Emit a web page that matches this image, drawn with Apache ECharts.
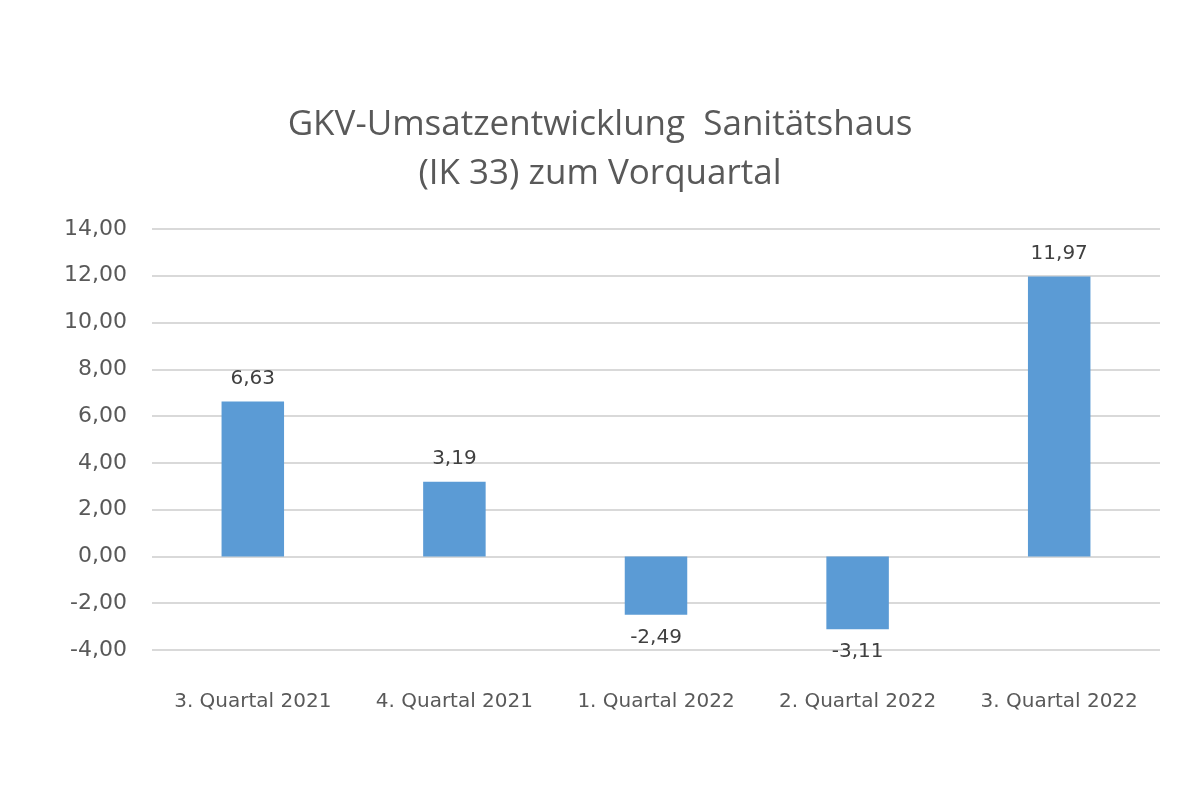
<!DOCTYPE html>
<html>
<head>
<meta charset="utf-8">
<script src="https://cdn.jsdelivr.net/npm/echarts@6/dist/echarts.min.js"></script>
<style>
  html, body { margin: 0; padding: 0; background: #fff; }
  #chart { width: 1200px; height: 800px; }
</style>
</head>
<body>
<div id="chart"></div>
<script>
const quarters = ['3. Quartal 2021', '4. Quartal 2021', '1. Quartal 2022', '2. Quartal 2022', '3. Quartal 2022'];
const change = [6.63, 3.19, -2.49, -3.11, 11.97];
const titleLines = ['GKV-Umsatzentwicklung  Sanitätshaus', '(IK 33) zum Vorquartal'];

const fmt = v => v.toFixed(2).replace('.', ',');

const chart = echarts.init(document.getElementById('chart'));
chart.setOption({
  animation: false,
  textStyle: { fontFamily: '"DejaVu Sans", sans-serif' },
  title: {
    text: titleLines.join('\n'),
    left: 'center',
    top: 96,
    textStyle: { fontSize: 35, fontWeight: 'normal', color: '#595959', lineHeight: 49, fontFamily: '"Open Sans", sans-serif' }
  },
  grid: { left: 152, right: 40, top: 229, bottom: 150 },
  xAxis: {
    type: 'category',
    data: quarters,
    axisLine: { show: false },
    axisTick: { show: false },
    axisLabel: { interval: 0, margin: 42, fontSize: 20, color: '#595959' }
  },
  yAxis: {
    type: 'value',
    min: -4,
    max: 14,
    interval: 2,
    axisLabel: { formatter: fmt, fontSize: 22, color: '#595959', margin: 25 },
    splitLine: { lineStyle: { color: '#d9d9d9', width: 2 } }
  },
  series: [{
    type: 'bar',
    data: change,
    barWidth: '31%',
    itemStyle: { color: '#5b9bd5' },
    label: {
      show: true,
      position: 'outside',
      distance: 13,
      formatter: p => fmt(p.value),
      fontSize: 20,
      color: '#404040'
    }
  }]
});
</script>
</body>
</html>
